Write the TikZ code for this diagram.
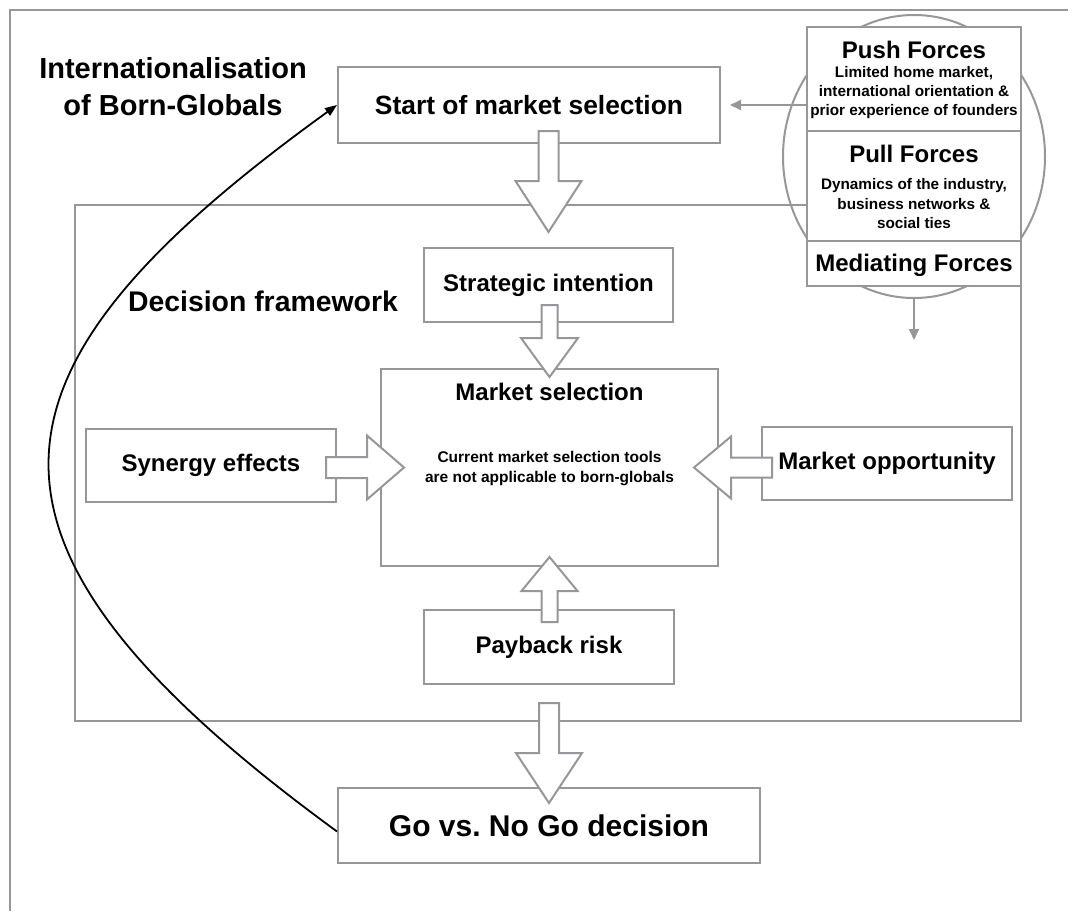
\documentclass[tikz,border=0pt]{standalone}
\usepackage{fontspec}
\setmainfont{Liberation Sans}
\usetikzlibrary{calc,shapes.geometric,arrows.meta}
\definecolor{lg}{RGB}{150,150,155}
\frenchspacing
\newcommand\fatarrow[5]{%
  \coordinate (fac) at ($(#2)!#5!(#1)$);
  \filldraw[blockarrow] ($(#1)!#3!90:(#2)$) -- ($(fac)!#3!90:(#2)$) -- ($(fac)!#4!90:(#2)$) -- (#2) -- ($(fac)!#4!-90:(#2)$) -- ($(fac)!#3!-90:(#2)$) -- ($(#1)!#3!-90:(#2)$) -- cycle;}
\begin{document}
\begin{tikzpicture}[x=1pt,y=-1pt,
  box/.style={draw=lg, line width=2pt, fill=white, inner sep=0pt, align=center, font=\bfseries\fontsize{24}{28}\selectfont},
  frame/.style={draw=lg, line width=2pt},
  blockarrow/.style={draw=lg, line width=2pt, fill=white, line join=miter},
  grayarrow/.style={draw=lg, line width=2pt, -{Triangle[length=11pt,width=10pt]}},
  curvearrow/.style={draw=black, line width=1.8pt, -{Triangle[length=12pt,width=9pt]}},
  lbl/.style={inner sep=0pt, anchor=base, align=center, font=\bfseries\fontsize{24}{28}\selectfont},
  small/.style={inner sep=0pt, anchor=base, font=\bfseries\fontsize{15.3}{19}\selectfont}]
\useasboundingbox (0,0) rectangle (1074,911);
% outer frame (open)
\coordinate (ftl) at (10,10);
\coordinate (ftr) at (1068,10);
\coordinate (fbl) at (10,911);
\draw[frame] (ftr) -- (ftl) -- (fbl);
% ellipse around forces
\node[ellipse, draw=lg, line width=2pt, minimum width=262pt, minimum height=283pt, inner sep=0pt] (ell) at (914,156.5) {};
% decision framework box
\node[draw=lg, line width=2pt, inner sep=0pt, minimum width=946pt, minimum height=516pt] (fw) at (548,463) {};
% forces boxes
\node[box, minimum width=214pt, minimum height=104pt] (push) at (914,79) {};
\node[box, minimum width=214pt, minimum height=110pt] (pull) at (914,186) {};
\node[box, minimum width=214pt, minimum height=45pt] (med) at (914,263.5) {};
\node[lbl] (pushh) at (914,58) {Push Forces};
\node[small] (push1) at (914,77) {Limited home market,};
\node[small] (push2) at (914,96) {international orientation \&};
\node[small] (push3) at (914,115) {prior experience of founders};
\node[lbl] (pullh) at (914,162) {Pull Forces};
\node[small] (pull1) at (914,189) {Dynamics of the industry,};
\node[small] (pull2) at (914,209) {business networks \&};
\node[small] (pull3) at (914,228) {social ties};
\node[lbl] (medh) at (914,271) {Mediating Forces};
% title and labels
\node[lbl, font=\bfseries\fontsize{29}{37}\selectfont] (title) at (173,115) {Internationalisation\\of Born-Globals};
\node[lbl, font=\bfseries\fontsize{28.4}{34}\selectfont] (fwlabel) at (263,311) {Decision framework};
% main boxes
\node[box, minimum width=382pt, minimum height=76pt, font=\bfseries\fontsize{26.4}{30}\selectfont] (start) at (529,105) {Start of market selection};
\node[box, minimum width=249pt, minimum height=74pt] (strat) at (548.5,285) {Strategic intention};
\node[box, minimum width=337pt, minimum height=197pt] (ms) at (549.5,467.5) {};
\node[lbl] (mstitle) at (549.5,400) {Market selection};
\node[small, font=\bfseries\fontsize{15.5}{20}\selectfont] (ms1) at (549.5,462) {Current market selection tools};
\node[small, font=\bfseries\fontsize{15.5}{20}\selectfont] (ms2) at (549.5,482) {are not applicable to born-globals};
\node[box, minimum width=250pt, minimum height=73pt] (syn) at (211,465.5) {Synergy effects};
\node[box, minimum width=250pt, minimum height=73pt] (opp) at (887,463.5) {Market opportunity};
\node[box, minimum width=250pt, minimum height=74pt] (pay) at (549,647) {Payback risk};
\node[box, minimum width=422pt, minimum height=75pt, font=\bfseries\fontsize{30}{34}\selectfont] (go) at (549,825.5) {Go vs. No Go decision};
% block arrows
\coordinate (a1s) at ($(start.south -| strat.north)+(0,-13)$);
\coordinate (a1t) at ($(strat.north)+(0,-15)$);
\fatarrow{a1s}{a1t}{10pt}{33pt}{51pt}
\coordinate (a2s) at ($(strat.south -| ms.north)+(0,-18)$);
\coordinate (a2t) at ($(ms.north)+(0,9)$);
\fatarrow{a2s}{a2t}{8pt}{28.5pt}{39pt}
\coordinate (a3s) at ($(syn.east |- ms.west)+(-11,0)$);
\coordinate (a3t) at ($(ms.west)+(24,0)$);
\fatarrow{a3s}{a3t}{10.5pt}{32pt}{37pt}
\coordinate (a4s) at ($(opp.west |- ms.east)+(11,0)$);
\coordinate (a4t) at ($(ms.east)+(-25,0)$);
\fatarrow{a4s}{a4t}{10pt}{31pt}{37pt}
\coordinate (a5s) at ($(pay.north -| ms.south)+(0,13)$);
\coordinate (a5t) at ($(ms.south)+(0,-10)$);
\fatarrow{a5s}{a5t}{8pt}{28pt}{34pt}
\coordinate (a6s) at ($(fw.south -| go.north)+(0,-19)$);
\coordinate (a6t) at ($(go.north)+(0,16)$);
\fatarrow{a6s}{a6t}{10pt}{33pt}{50pt}
% feedback curve
\draw[curvearrow] ($(go.west)+(0,6)$) .. controls (-62,540) and (-30,370) .. (start.west);
% gray thin arrows
\draw[grayarrow, shorten >=9pt] (start.east -| push.west) -- (start.east);
\coordinate (medtip) at ($(ell.south)+(0,41)$);
\draw[grayarrow] (ell.south) -- (medtip);
\end{tikzpicture}
\end{document}
